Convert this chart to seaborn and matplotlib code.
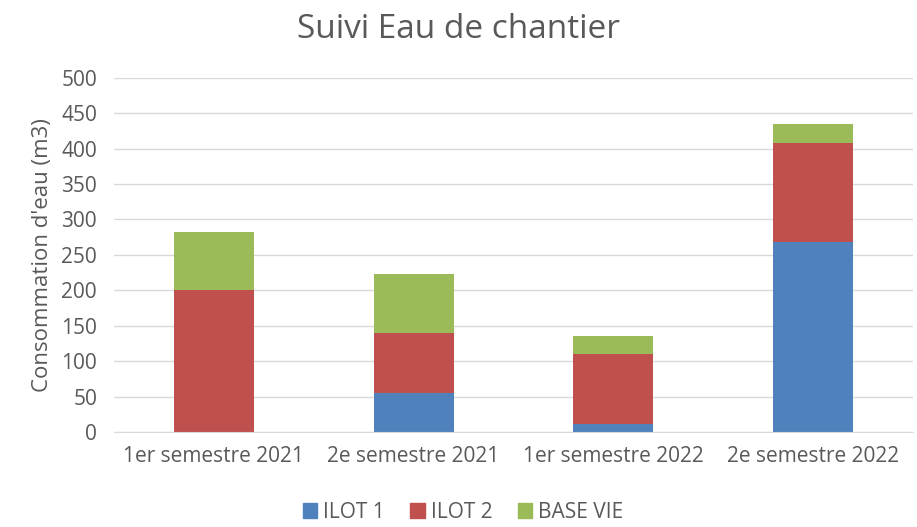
import matplotlib
matplotlib.use("Agg")
import matplotlib.pyplot as plt
import seaborn as sns
import pandas as pd
from matplotlib.patches import Patch

# données
periodes = ['1er semestre 2021', '2e semestre 2021', '1er semestre 2022', '2e semestre 2022']
ilot1 = [0, 55, 12, 268]
ilot2 = [201, 85, 98, 140]
base_vie = [82, 83, 26, 26]

couleurs = {'ILOT 1': '#4F81BD', 'ILOT 2': '#C0504D', 'BASE VIE': '#9BBB59'}
gris = '#595959'

sns.set_style("white")
plt.rcParams['font.family'] = ['Open Sans', 'DejaVu Sans']

df = pd.DataFrame({'periode': periodes, 'ILOT 1': ilot1, 'ILOT 2': ilot2, 'BASE VIE': base_vie})
# cumuls pour empiler les barres
df['c1'] = df['ILOT 1']
df['c2'] = df['c1'] + df['ILOT 2']
df['c3'] = df['c2'] + df['BASE VIE']

fig = plt.figure(figsize=(9.17, 5.27), dpi=100)
ax = fig.add_axes([0.124, 0.18, 0.872, 0.6726])

for col, nom in [('c3', 'BASE VIE'), ('c2', 'ILOT 2'), ('c1', 'ILOT 1')]:
    sns.barplot(data=df, x='periode', y=col, color=couleurs[nom], width=0.4,
                saturation=1, edgecolor='none', linewidth=0, ax=ax)

ax.set_ylim(0, 500)
ax.set_yticks(range(0, 501, 50))
ax.grid(axis='y', color='#D9D9D9', linewidth=1)
ax.set_axisbelow(True)
for s in ['top', 'right', 'left']:
    ax.spines[s].set_visible(False)
ax.spines['bottom'].set_color('#D9D9D9')
ax.tick_params(axis='y', length=0, labelsize=15, colors=gris, pad=12)
ax.tick_params(axis='x', length=0, labelsize=15, colors=gris, pad=10)
ax.set_xlabel('')
ax.set_ylabel("Consommation d'eau (m3)", fontsize=16, color=gris, labelpad=6)
fig.suptitle('Suivi Eau de chantier', fontsize=24, color=gris, y=0.975)

poignees = [Patch(color=couleurs[n], label=n) for n in ['ILOT 1', 'ILOT 2', 'BASE VIE']]
fig.legend(handles=poignees, loc='lower center', ncol=3, frameon=False,
           bbox_to_anchor=(0.505, 0.0), borderaxespad=0.1, borderpad=0.1,
           fontsize=15, labelcolor=gris,
           handlelength=0.7, handleheight=0.7, handletextpad=0.3, columnspacing=1.2)

fig.savefig('out.png', dpi=100)
